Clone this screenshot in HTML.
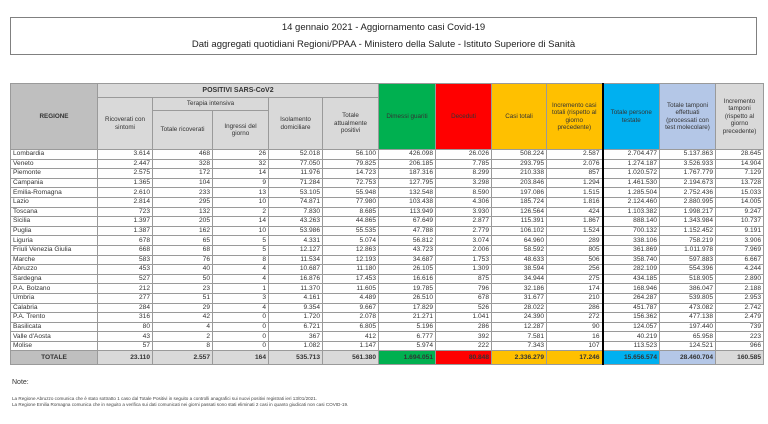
<!DOCTYPE html>
<html><head><meta charset="utf-8"><style>
body{margin:0;width:768px;height:424px;background:#fff;font-family:"Liberation Sans",sans-serif;position:relative;overflow:hidden}
.tb{position:absolute;left:10px;top:17px;width:747px;height:38px;border:1px solid #808080;box-sizing:border-box;text-align:center;color:#222}
.tb div{position:absolute;left:0;right:0;font-size:9.5px}
table{position:absolute;left:10px;top:83px;border-collapse:collapse;table-layout:fixed;width:753px}
td{border:1px solid #9a9a9a;padding:0 2px;font-size:6.6px;color:#333;text-align:right;height:8.6px;line-height:8px;white-space:nowrap;overflow:hidden}
td.r{text-align:left}
.h td{text-align:center;white-space:normal;line-height:7.5px;font-size:6.3px}
.g1{background:#bfbfbf}.g2{background:#d9d9d9}
.gr{background:#00b050}.rd{background:#ff0000}.or{background:#ffc000}.bl{background:#00b0f0}.lb{background:#b4c7e7}
.tot td{background:#d9d9d9;font-weight:bold;height:13px}
.bk{border-right:2px solid #000}
.note{position:absolute;left:12px;font-size:7px;color:#333}
.sm{position:absolute;left:12px;font-size:4.6px;color:#444}
</style></head><body>
<div class="tb"><div style="top:4px">14 gennaio 2021 - Aggiornamento casi Covid-19</div><div style="top:21px">Dati aggregati quotidiani Regioni/PPAA - Ministero della Salute - Istituto Superiore di Sanità</div></div>
<table>
<colgroup><col style="width:87px"><col style="width:55px"><col style="width:60px"><col style="width:56px"><col style="width:54px"><col style="width:56px"><col style="width:57px"><col style="width:56px"><col style="width:55px"><col style="width:56px"><col style="width:57px"><col style="width:56px"><col style="width:48px"></colgroup>
<tr class="h"><td rowspan="3" class="g1" style="font-weight:bold">REGIONE</td><td colspan="5" class="g2" style="font-weight:bold;font-size:7px;height:13px">POSITIVI SARS-CoV2</td><td rowspan="3" class="gr">Dimessi guariti</td><td rowspan="3" class="rd">Deceduti</td><td rowspan="3" class="or">Casi totali</td><td rowspan="3" class="or bk">Incremento casi totali (rispetto al giorno precedente)</td><td rowspan="3" class="bl">Totale persone testate</td><td rowspan="3" class="lb">Totale tamponi effettuati (processati con test molecolare)</td><td rowspan="3" class="g2">Incremento tamponi (rispetto al giorno precedente)</td></tr>
<tr class="h"><td rowspan="2" class="g2">Ricoverati con sintomi</td><td colspan="2" class="g2" style="height:12px">Terapia intensiva</td><td rowspan="2" class="g2">Isolamento domiciliare</td><td rowspan="2" class="g2">Totale attualmente positivi</td></tr>
<tr class="h"><td class="g2" style="height:38px">Totale ricoverati</td><td class="g2">Ingressi del giorno</td></tr>
<tr><td class="r">Lombardia</td><td>3.614</td><td>468</td><td>26</td><td>52.018</td><td>56.100</td><td>426.098</td><td>26.026</td><td>508.224</td><td class="bk">2.587</td><td>2.704.477</td><td>5.137.863</td><td>28.645</td></tr>
<tr><td class="r">Veneto</td><td>2.447</td><td>328</td><td>32</td><td>77.050</td><td>79.825</td><td>206.185</td><td>7.785</td><td>293.795</td><td class="bk">2.076</td><td>1.274.187</td><td>3.526.933</td><td>14.904</td></tr>
<tr><td class="r">Piemonte</td><td>2.575</td><td>172</td><td>14</td><td>11.976</td><td>14.723</td><td>187.316</td><td>8.299</td><td>210.338</td><td class="bk">857</td><td>1.020.572</td><td>1.767.779</td><td>7.129</td></tr>
<tr><td class="r">Campania</td><td>1.365</td><td>104</td><td>9</td><td>71.284</td><td>72.753</td><td>127.795</td><td>3.298</td><td>203.846</td><td class="bk">1.294</td><td>1.461.530</td><td>2.194.673</td><td>13.728</td></tr>
<tr><td class="r">Emilia-Romagna</td><td>2.610</td><td>233</td><td>13</td><td>53.105</td><td>55.948</td><td>132.548</td><td>8.590</td><td>197.086</td><td class="bk">1.515</td><td>1.285.504</td><td>2.752.436</td><td>15.033</td></tr>
<tr><td class="r">Lazio</td><td>2.814</td><td>295</td><td>10</td><td>74.871</td><td>77.980</td><td>103.438</td><td>4.306</td><td>185.724</td><td class="bk">1.816</td><td>2.124.460</td><td>2.880.995</td><td>14.005</td></tr>
<tr><td class="r">Toscana</td><td>723</td><td>132</td><td>2</td><td>7.830</td><td>8.685</td><td>113.949</td><td>3.930</td><td>126.564</td><td class="bk">424</td><td>1.103.382</td><td>1.998.217</td><td>9.247</td></tr>
<tr><td class="r">Sicilia</td><td>1.397</td><td>205</td><td>14</td><td>43.263</td><td>44.865</td><td>67.649</td><td>2.877</td><td>115.391</td><td class="bk">1.867</td><td>888.140</td><td>1.343.984</td><td>10.737</td></tr>
<tr><td class="r">Puglia</td><td>1.387</td><td>162</td><td>10</td><td>53.986</td><td>55.535</td><td>47.788</td><td>2.779</td><td>106.102</td><td class="bk">1.524</td><td>700.132</td><td>1.152.452</td><td>9.191</td></tr>
<tr><td class="r">Liguria</td><td>678</td><td>65</td><td>5</td><td>4.331</td><td>5.074</td><td>56.812</td><td>3.074</td><td>64.960</td><td class="bk">289</td><td>338.106</td><td>758.219</td><td>3.906</td></tr>
<tr><td class="r">Friuli Venezia Giulia</td><td>668</td><td>68</td><td>5</td><td>12.127</td><td>12.863</td><td>43.723</td><td>2.006</td><td>58.592</td><td class="bk">805</td><td>361.869</td><td>1.011.978</td><td>7.969</td></tr>
<tr><td class="r">Marche</td><td>583</td><td>76</td><td>8</td><td>11.534</td><td>12.193</td><td>34.687</td><td>1.753</td><td>48.633</td><td class="bk">506</td><td>358.740</td><td>597.883</td><td>6.667</td></tr>
<tr><td class="r">Abruzzo</td><td>453</td><td>40</td><td>4</td><td>10.687</td><td>11.180</td><td>26.105</td><td>1.309</td><td>38.594</td><td class="bk">256</td><td>282.109</td><td>554.396</td><td>4.244</td></tr>
<tr><td class="r">Sardegna</td><td>527</td><td>50</td><td>4</td><td>16.876</td><td>17.453</td><td>16.616</td><td>875</td><td>34.944</td><td class="bk">275</td><td>434.185</td><td>518.905</td><td>2.890</td></tr>
<tr><td class="r">P.A. Bolzano</td><td>212</td><td>23</td><td>1</td><td>11.370</td><td>11.605</td><td>19.785</td><td>796</td><td>32.186</td><td class="bk">174</td><td>168.946</td><td>386.047</td><td>2.188</td></tr>
<tr><td class="r">Umbria</td><td>277</td><td>51</td><td>3</td><td>4.161</td><td>4.489</td><td>26.510</td><td>678</td><td>31.677</td><td class="bk">210</td><td>264.287</td><td>539.805</td><td>2.953</td></tr>
<tr><td class="r">Calabria</td><td>284</td><td>29</td><td>4</td><td>9.354</td><td>9.667</td><td>17.829</td><td>526</td><td>28.022</td><td class="bk">286</td><td>451.787</td><td>473.082</td><td>2.742</td></tr>
<tr><td class="r">P.A. Trento</td><td>316</td><td>42</td><td>0</td><td>1.720</td><td>2.078</td><td>21.271</td><td>1.041</td><td>24.390</td><td class="bk">272</td><td>156.362</td><td>477.138</td><td>2.479</td></tr>
<tr><td class="r">Basilicata</td><td>80</td><td>4</td><td>0</td><td>6.721</td><td>6.805</td><td>5.196</td><td>286</td><td>12.287</td><td class="bk">90</td><td>124.057</td><td>197.440</td><td>739</td></tr>
<tr><td class="r">Valle d'Aosta</td><td>43</td><td>2</td><td>0</td><td>367</td><td>412</td><td>6.777</td><td>392</td><td>7.581</td><td class="bk">16</td><td>40.219</td><td>65.958</td><td>223</td></tr>
<tr><td class="r">Molise</td><td>57</td><td>8</td><td>0</td><td>1.082</td><td>1.147</td><td>5.974</td><td>222</td><td>7.343</td><td class="bk">107</td><td>113.523</td><td>124.521</td><td>966</td></tr>
<tr class="tot"><td class="g1" style="text-align:center;background:#bfbfbf">TOTALE</td><td>23.110</td><td>2.557</td><td>164</td><td>535.713</td><td>561.380</td><td class="gr" style="background:#00b050">1.694.051</td><td style="background:#ff0000">80.848</td><td style="background:#ffc000">2.336.279</td><td class="bk" style="background:#ffc000">17.246</td><td style="background:#00b0f0">15.656.574</td><td style="background:#b4c7e7">28.460.704</td><td>160.585</td></tr>
</table>
<div class="note" style="top:379px">Note:</div>
<div class="sm" style="top:396px">La Regione Abruzzo comunica che è stato sottratto 1 caso dal Totale Positivi in seguito a controlli anagrafici sui nuovi positivi registrati ieri 13/01/2021.</div>
<div class="sm" style="top:402px">La Regione Emilia Romagna comunica che in seguito a verifica sui dati comunicati nei giorni passati sono stati eliminati 2 casi in quanto giudicati non casi COVID-19.</div>
</body></html>
